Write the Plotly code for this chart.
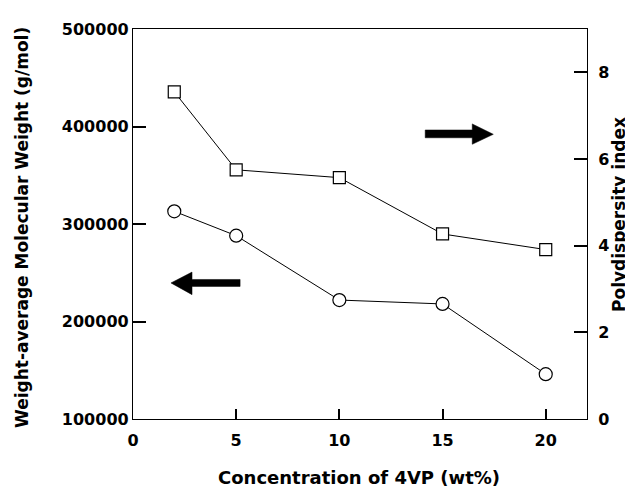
import plotly.graph_objects as go

conc = [2, 5, 10, 15, 20]
mw = [313000, 288000, 222000, 218000, 146000]
pdi = [7.55, 5.75, 5.57, 4.27, 3.91]

x_ticks = [0, 5, 10, 15, 20]
y_ticks = [100000, 200000, 300000, 400000, 500000]
y2_ticks = [0, 2, 4, 6, 8]

FONT = "DejaVu Sans"

fig = go.Figure()
fig.add_trace(go.Scatter(
    x=conc, y=mw, mode="lines+markers", yaxis="y",
    line=dict(color="black", width=1),
    marker=dict(symbol="circle", size=13, color="white",
                line=dict(color="black", width=1.2)),
    showlegend=False))
fig.add_trace(go.Scatter(
    x=conc, y=pdi, mode="lines+markers", yaxis="y2",
    line=dict(color="black", width=1),
    marker=dict(symbol="square", size=12, color="white",
                line=dict(color="black", width=1.2)),
    showlegend=False))

# arrows (right one points to right axis, left one to left axis)
right_arrow = "M 14.16,6.49 L 16.44,6.49 L 16.44,6.34 L 17.46,6.57 L 16.44,6.81 L 16.44,6.67 L 14.16,6.67 Z"
left_arrow = "M 5.19,3.06 L 2.86,3.06 L 2.86,2.87 L 1.84,3.14 L 2.86,3.39 L 2.86,3.22 L 5.19,3.22 Z"
for p in (right_arrow, left_arrow):
    fig.add_shape(type="path", path=p, xref="x", yref="y2",
                  fillcolor="black", line=dict(color="black", width=0.5))

tickfont = dict(family=FONT, size=16, color="black", weight="bold")
titlefont = dict(family=FONT, size=17, color="black", weight="bold")
xtitlefont = dict(family=FONT, size=18, color="black", weight="bold")

# page body adds an 8px offset, so the figure is laid out 8px smaller
OFF = 8
W, H = 633 - OFF, 487 - OFF
L, T = 133 - OFF, 29 - OFF
R = W - (587 - OFF)
B = H - (419 - OFF)
pw, ph = W - L - R, H - T - B

def px_x(px):
    return (px - OFF - L) / pw

def px_y(py):
    return (H - B - (py - OFF)) / ph

fig.update_layout(
    width=W, height=H,
    margin=dict(l=L, r=R, t=T, b=B, autoexpand=False),
    paper_bgcolor="white", plot_bgcolor="white",
    xaxis=dict(range=[0, 22], tickvals=x_ticks, ticks="inside", ticklen=10,
               tickwidth=2, tickcolor="black", showline=True, linecolor="black",
               linewidth=1.3, mirror=True, showgrid=False, zeroline=False,
               tickfont=tickfont, automargin=False, ticklabelstandoff=7),
    yaxis=dict(range=[100000, 500000], tickvals=y_ticks, tickformat="d",
               ticksuffix="\u2002",
               ticks="inside", ticklen=13, tickwidth=2, tickcolor="black",
               showline=True, linecolor="black", linewidth=1.3,
               showgrid=False, zeroline=False, tickfont=tickfont, automargin=False),
    yaxis2=dict(range=[0, 9], tickvals=y2_ticks, overlaying="y", side="right",
                ticks="inside", ticklen=13, tickwidth=2, tickcolor="black",
                showline=True, linecolor="black", linewidth=1.3,
                showgrid=False, zeroline=False, tickfont=tickfont, automargin=False,
                ticklabelstandoff=7),
    annotations=[
        dict(text="Concentration of 4VP (wt%)", xref="paper", yref="paper",
             x=px_x(359), y=px_y(478), showarrow=False, font=xtitlefont,
             xanchor="center", yanchor="middle"),
        dict(text="Weight-average Molecular Weight (g/mol)", xref="paper", yref="paper",
             x=px_x(22), y=px_y(228), showarrow=False, font=titlefont, textangle=-90,
             xanchor="center", yanchor="middle"),
        dict(text="Polydispersity index", xref="paper", yref="paper",
             x=px_x(619), y=px_y(215), showarrow=False, font=titlefont, textangle=-90,
             xanchor="center", yanchor="middle"),
    ],
)

fig.write_html("out.html")
